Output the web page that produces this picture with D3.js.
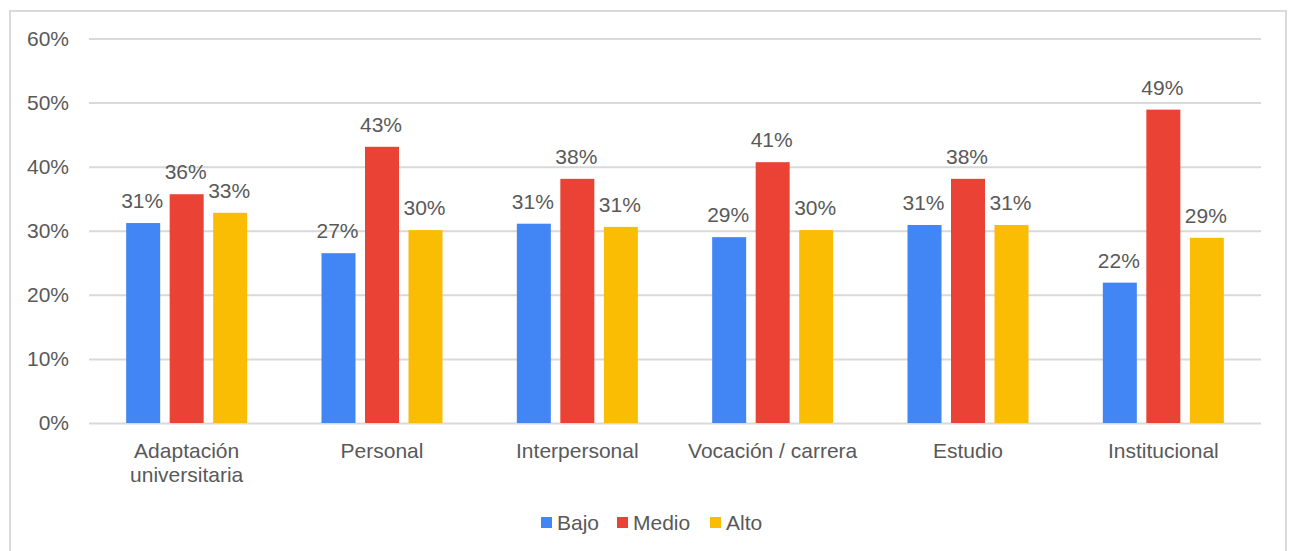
<!DOCTYPE html>
<html>
<head>
<meta charset="utf-8">
<script src="https://cdn.jsdelivr.net/npm/d3@7"></script>
<style>
  body { margin: 0; background: #fff; }
  svg { display: block; font-family: "Liberation Sans", Arial, sans-serif; }
</style>
</head>
<body>
<div id="app"></div>
<script>
const categories = [
  ['Adaptación', 'universitaria'],
  ['Personal'],
  ['Interpersonal'],
  ['Vocación / carrera'],
  ['Estudio'],
  ['Institucional']
];
const seriesNames = ['Bajo', 'Medio', 'Alto'];
const bajo = [31.2, 26.5, 31.1, 29.0, 30.9, 21.9];
const medio = [35.7, 43.1, 38.1, 40.7, 38.1, 48.9];
const alto = [32.8, 30.1, 30.6, 30.1, 30.9, 28.9];
const yTicks = [0, 10, 20, 30, 40, 50, 60];
const colors = ['#4285F4', '#EA4335', '#FBBC04'];

const width = 1294;
const height = 551;
const margin = { top: 38.5, right: 33, bottom: 128, left: 89 };
const fontSize = '21px';
const textColor = '#595959';

const svg = d3.select('#app')
  .append('svg')
  .attr('width', width)
  .attr('height', height);

// outer frame
svg.append('rect')
  .attr('x', 10)
  .attr('y', 11)
  .attr('width', 1276)
  .attr('height', 560)
  .attr('fill', 'none')
  .attr('stroke', '#d9d9d9')
  .attr('stroke-width', 2);

const x = d3.scaleBand()
  .domain(d3.range(categories.length))
  .range([margin.left, width - margin.right]);

const y = d3.scaleLinear()
  .domain([0, 60])
  .range([height - margin.bottom, margin.top]);

// gridlines + y labels
const yAxis = d3.axisLeft(y)
  .tickValues(yTicks)
  .tickFormat(d => d + '%')
  .tickSize(-(width - margin.left - margin.right))
  .tickPadding(20);

const gy = svg.append('g')
  .attr('transform', `translate(${margin.left},0)`)
  .call(yAxis);
gy.select('.domain').remove();
gy.selectAll('line').attr('stroke', '#d9d9d9').attr('stroke-width', 2);
gy.selectAll('text')
  .attr('fill', textColor)
  .style('font-family', '"Liberation Sans", Arial, sans-serif')
  .style('font-size', fontSize);

const barW = 34;
const gap = 9.5;
const series = [bajo, medio, alto];

const groups = svg.append('g')
  .selectAll('g')
  .data(series)
  .enter()
    .append('g')
    .attr('fill', (d, i) => colors[i]);

groups.each(function (values, si) {
  const g = d3.select(this);
  const offset = (si - 1) * (barW + gap) - barW / 2;
  g.selectAll('rect')
    .data(values)
    .enter()
      .append('rect')
      .attr('x', (d, i) => x(i) + x.bandwidth() / 2 + offset)
      .attr('y', d => y(d))
      .attr('width', barW)
      .attr('height', d => y(0) - y(d));

  g.selectAll('text')
    .data(values)
    .enter()
      .append('text')
      .attr('x', (d, i) => x(i) + x.bandwidth() / 2 + offset + barW / 2 - 1)
      .attr('y', d => y(d) - 15)
      .attr('text-anchor', 'middle')
      .attr('fill', textColor)
      .style('font-size', fontSize)
      .text(d => Math.round(d) + '%');
});

// category labels
const cat = svg.append('g')
  .selectAll('text')
  .data(categories)
  .enter()
    .append('text')
    .attr('x', (d, i) => x(i) + x.bandwidth() / 2)
    .attr('y', 457.5)
    .attr('text-anchor', 'middle')
    .attr('fill', textColor)
    .style('font-size', fontSize);

cat.selectAll('tspan')
  .data(d => d)
  .enter()
    .append('tspan')
    .attr('x', function () { return d3.select(this.parentNode).attr('x'); })
    .attr('dy', (d, i) => i === 0 ? 0 : 24.5)
    .text(d => d);

// legend
const legendX = [541, 617, 710];
const legend = svg.append('g')
  .selectAll('g')
  .data(seriesNames)
  .enter()
    .append('g')
    .attr('transform', (d, i) => `translate(${legendX[i]},522)`);

legend.append('rect')
  .attr('x', 0)
  .attr('y', -5)
  .attr('width', 11)
  .attr('height', 11)
  .attr('fill', (d, i) => colors[i]);

legend.append('text')
  .attr('x', 16)
  .attr('y', 8)
  .attr('fill', textColor)
  .style('font-size', fontSize)
  .text(d => d);
</script>
</body>
</html>
